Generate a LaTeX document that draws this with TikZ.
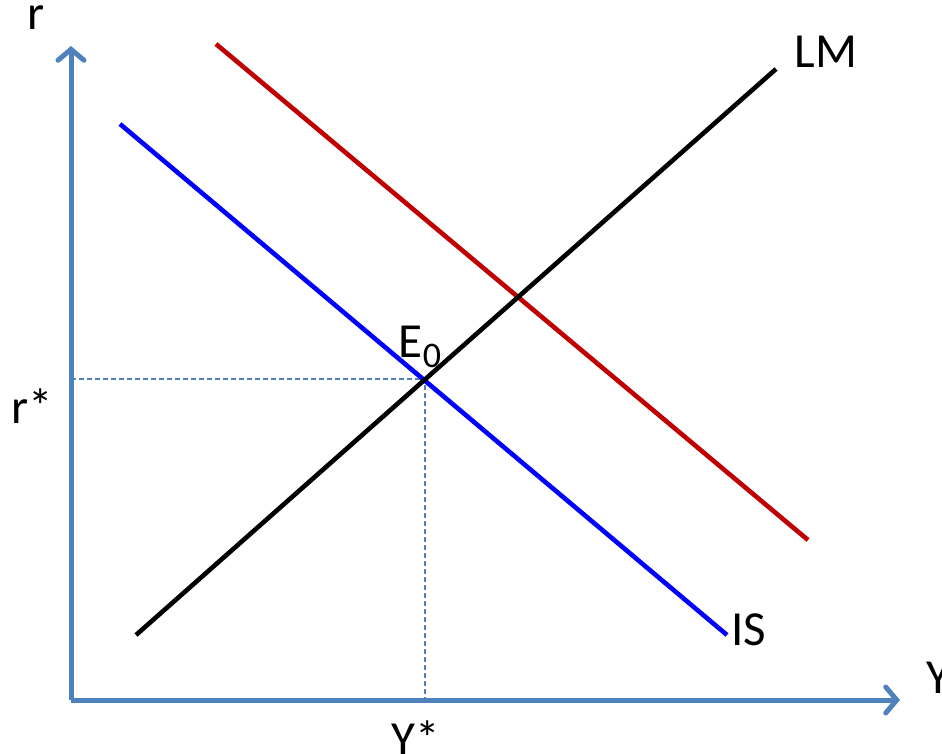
\documentclass[tikz,border=0pt]{standalone}
\usepackage{fontspec}
\setmainfont{Carlito}
\usetikzlibrary{arrows.meta}
\definecolor{axisblue}{HTML}{4F81BD}
\definecolor{darkred}{HTML}{C00000}
\begin{document}
\begin{tikzpicture}[x=1pt,y=-1pt,
  axis/.style={draw=axisblue,line width=5pt,-{Straight Barb[length=11pt,width=26pt,line cap=round]}},
  curve/.style={line width=4.6pt},
  guide/.style={draw=axisblue,line width=1.3pt,dash pattern=on 5pt off 3pt},
  lbl/.style={font=\fontsize{49}{52}\selectfont,inner sep=0pt}]
\useasboundingbox (0,0) rectangle (942,753);
\coordinate (O) at (71,700);
\coordinate (ytop) at (71,46);
\coordinate (xend) at (900,700);
\draw[axis] (O) -- (ytop);
\draw[axis] (O) -- (xend);
\coordinate (E) at (425,379);
\coordinate (Ey) at (71,379);
\coordinate (Ex) at (425,700);
\draw[guide] (Ey) -- (E) -- (Ex);
\coordinate (lma) at (136,635);
\coordinate (lmb) at (776,69);
\coordinate (isa) at (120,124);
\coordinate (isb) at (727,635);
\coordinate (isra) at (216,44);
\coordinate (isrb) at (808,540);
\draw[curve,darkred] (isra) -- (isrb);
\draw[curve,blue] (isa) -- (isb);
\draw[curve,black] (lma) -- (lmb);
\node[lbl] (r) at (36,18) {r};
\node[lbl] (Y) at (938,678) {Y};
\node[lbl] (LM) at (826,52) {LM};
\node[lbl] (IS) at (749,630) {IS};
\node[lbl] (rs) at (32,406) {r*};
\node[lbl] (Ys) at (416,738) {Y*};
\node[lbl] (E0) at (420,347) {E\raisebox{-0.22em}{\fontsize{36}{36}\selectfont 0}};
\end{tikzpicture}
\end{document}
